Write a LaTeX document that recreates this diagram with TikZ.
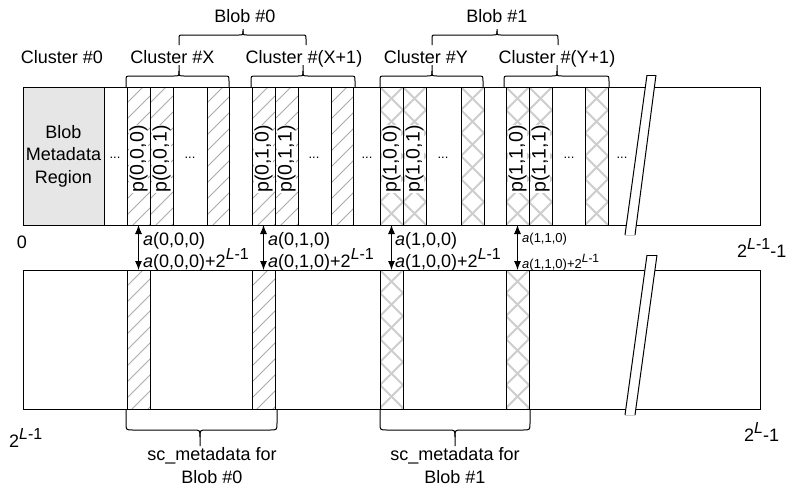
\documentclass[tikz,border=0pt]{standalone}
\usepackage{fontspec}
\setmainfont{Liberation Sans}
\usetikzlibrary{arrows.meta}
\newcommand{\fsz}{\fontsize{18}{22.5}\selectfont}
\newcommand{\fsp}{\fontsize{19.5}{22}\selectfont}
\newcommand{\fsm}{\fontsize{13}{15}\selectfont}
\newcommand{\fdots}{\fontsize{13}{15}\selectfont}
\newcommand{\mysup}[1]{\raisebox{0.42em}{\fontsize{16}{16}\selectfont #1}}
\newcommand{\mysupsm}[1]{\raisebox{0.42em}{\fontsize{12}{12}\selectfont #1}}
\definecolor{metagray}{HTML}{E6E6E6}
\definecolor{hatchgray}{HTML}{ABABAB}
\definecolor{crossgray}{HTML}{CDCDCD}
\tikzset{
  box/.style={draw=black,line width=1pt},
  stripe/.style={draw=black,line width=1pt},
  hatchA/.style={draw=hatchgray,line width=0.9pt},
  hatchB/.style={draw=crossgray,line width=1.8pt},
  brc/.style={draw=black,line width=1pt},
  dbl/.style={{Latex[length=9pt,width=7pt]}-{Latex[length=9pt,width=7pt]},line width=0.9pt},
  lbl/.style={font=\fsz,inner sep=0pt},
  plbl/.style={font=\fsp,inner sep=0.6pt,fill=white,rotate=90},
  dotlbl/.style={font=\fdots,inner sep=0pt,anchor=base},
}
\newcommand{\diagstripe}[4]{%
  \begin{scope}
    \clip (#1,#3) rectangle (#2,#4);
    \foreach \k in {0,...,12}{\draw[hatchA] (#1,{#3+\k*16}) -- ++(40,-40);}
  \end{scope}
  \draw[stripe] (#1,#3) rectangle (#2,#4);}
\newcommand{\crossstripe}[4]{%
  \begin{scope}
    \clip (#1,#3) rectangle (#2,#4);
    \foreach \k in {-1,...,7}{%
      \draw[hatchB] (#1,{#3+\k*23}) -- ++(23,23);
      \draw[hatchB] (#1,{#3+\k*23}) -- ++(23,-23);}
  \end{scope}
  \draw[stripe] (#1,#3) rectangle (#2,#4);}
% xl, xt, xr, yb, yh, yt, r, dir (1 = tip up, -1 = tip down)
\newcommand{\mybrace}[8]{%
  \draw[brc] (#1,#4) -- (#1,{#5+#8*#7}) .. controls (#1,#5) .. ({#1+#7},#5)
     -- ({#2-#7},#5) .. controls (#2,#5) .. (#2,{#5-#8*#7}) -- (#2,#6);
  \draw[brc] (#3,#4) -- (#3,{#5+#8*#7}) .. controls (#3,#5) .. ({#3-#7},#5)
     -- ({#2+#7},#5) .. controls (#2,#5) .. (#2,{#5-#8*#7});}
\begin{document}
\begin{tikzpicture}[x=1pt,y=-1pt]
\useasboundingbox (0,0) rectangle (788,490);

% ---------- top region ----------
\draw[box,fill=white] (23,87) rectangle (760,225);
\draw[box,fill=metagray] (23,87) rectangle (104,225);
\node[lbl,align=center] (meta) at (63.5,156) {Blob\\Metadata\\Region};

\diagstripe{127}{150}{87}{225}
\diagstripe{150}{173}{87}{225}
\diagstripe{207}{229}{87}{225}
\diagstripe{252}{275}{87}{225}
\diagstripe{275}{298}{87}{225}
\diagstripe{331}{353}{87}{225}
\crossstripe{380}{403}{87}{225}
\crossstripe{403}{426}{87}{225}
\crossstripe{461}{484}{87}{225}
\crossstripe{506}{529}{87}{225}
\crossstripe{529}{552}{87}{225}
\crossstripe{585}{608}{87}{225}

\node[plbl] (p000) at (138.5,159) {p(0,0,0)};
\node[plbl] (p001) at (161.5,159) {p(0,0,1)};
\node[plbl] (p010) at (263.5,159) {p(0,1,0)};
\node[plbl] (p011) at (286.5,159) {p(0,1,1)};
\node[plbl] (p100) at (391.5,159) {p(1,0,0)};
\node[plbl] (p101) at (414.5,159) {p(1,0,1)};
\node[plbl] (p110) at (517.5,159) {p(1,1,0)};
\node[plbl] (p111) at (540.5,159) {p(1,1,1)};

\node[dotlbl] (d1) at (115,158) {...};
\node[dotlbl] (d2) at (190,158) {...};
\node[dotlbl] (d3) at (314,158) {...};
\node[dotlbl] (d4) at (367,158) {...};
\node[dotlbl] (d5) at (443,158) {...};
\node[dotlbl] (d6) at (569,158) {...};
\node[dotlbl] (d7) at (622,158) {...};

% ---------- bottom region ----------
\draw[box,fill=white] (23,270) rectangle (760,409);
\diagstripe{127}{150}{270}{409}
\diagstripe{252}{275}{270}{409}
\crossstripe{380}{403}{270}{409}
\crossstripe{506}{529}{270}{409}

% ---------- break marks ----------
\fill[white] (647,75) -- (656,75) -- (635,235) -- (625,235) -- cycle;
\draw[line width=1pt] (647,75) -- (625,235);
\draw[line width=1pt] (656,75) -- (635,235);
\draw[line width=0.8pt] (647,75) -- (656,75);
\draw[line width=0.8pt,draw=gray!40] (625,235) -- (635,235);
\fill[white] (647,255) -- (657,255) -- (635,415) -- (625,415) -- cycle;
\draw[line width=1pt] (647,255) -- (625,415);
\draw[line width=1pt] (657,255) -- (635,415);
\draw[line width=0.8pt] (647,255) -- (657,255);
\draw[line width=0.8pt,draw=gray!40] (625,415) -- (635,415);

% ---------- top braces and labels ----------
\mybrace{126}{179}{229}{87}{76}{65}{5}{1}
\mybrace{251}{303}{355}{87}{76}{65}{5}{1}
\mybrace{380}{432}{483}{87}{76}{65}{5}{1}
\mybrace{504}{557}{609}{87}{76}{65}{5}{1}
\mybrace{179}{243}{306}{45}{35}{29}{4}{1}
\mybrace{432}{497}{558}{45}{35}{29}{4}{1}

\node[lbl,anchor=base] (c0) at (62,63) {Cluster \#0};
\node[lbl,anchor=base] (cx) at (172.5,63) {Cluster \#X};
\node[lbl,anchor=base] (cx1) at (304,63) {Cluster \#(X+1)};
\node[lbl,anchor=base] (cy) at (426,63) {Cluster \#Y};
\node[lbl,anchor=base] (cy1) at (557,63) {Cluster \#(Y+1)};
\node[lbl,anchor=base] (b0) at (245,22) {Blob \#0};
\node[lbl,anchor=base] (b1) at (497,22) {Blob \#1};

% ---------- address arrows ----------
\coordinate (t1) at (138.5,225); \coordinate (u1) at (138.5,270);
\coordinate (t2) at (263.5,225); \coordinate (u2) at (263.5,270);
\coordinate (t3) at (391.5,225); \coordinate (u3) at (391.5,270);
\coordinate (t4) at (517.5,225); \coordinate (u4) at (517.5,270);
\draw[dbl] (t1) -- (u1);
\draw[dbl] (t2) -- (u2);
\draw[dbl] (t3) -- (u3);
\draw[dbl] (t4) -- (u4);

\node[lbl,anchor=base west] (a1) at (143,245) {\textit{a}(0,0,0)};
\node[lbl,anchor=base west] (a1b) at (143,267.5) {\textit{a}(0,0,0)+2\mysup{\textit{L}-1}};
\node[lbl,anchor=base west] (a2) at (268,245) {\textit{a}(0,1,0)};
\node[lbl,anchor=base west] (a2b) at (268,267.5) {\textit{a}(0,1,0)+2\mysup{\textit{L}-1}};
\node[lbl,anchor=base west] (a3) at (395,245) {\textit{a}(1,0,0)};
\node[lbl,anchor=base west] (a3b) at (395,267.5) {\textit{a}(1,0,0)+2\mysup{\textit{L}-1}};
\node[font=\fsm,inner sep=0pt,anchor=base west] (a4) at (522,242) {\textit{a}(1,1,0)};
\node[font=\fsm,inner sep=0pt,anchor=base west] (a4b) at (522,268) {\textit{a}(1,1,0)+2\mysupsm{\textit{L}-1}};

% ---------- boundary labels ----------
\node[lbl,anchor=base] (zero) at (22,248) {0};
\node[lbl,anchor=base west] (endtop) at (737,257) {2\mysup{\textit{L}-1}-1};
\node[lbl,anchor=base west] (startbot) at (9,447) {2\mysup{\textit{L}-1}};
\node[lbl,anchor=base west] (endbot) at (744,441) {2\mysup{\textit{L}}-1};

% ---------- bottom braces ----------
\mybrace{126}{200}{277}{409}{430}{446}{7}{-1}
\mybrace{380}{455}{530}{409}{430}{446}{7}{-1}
\node[lbl,align=center,anchor=base] (sc0) at (212,483) {sc\_metadata for\\Blob \#0};
\node[lbl,align=center,anchor=base] (sc1) at (455,483) {sc\_metadata for\\Blob \#1};
\end{tikzpicture}
\end{document}
